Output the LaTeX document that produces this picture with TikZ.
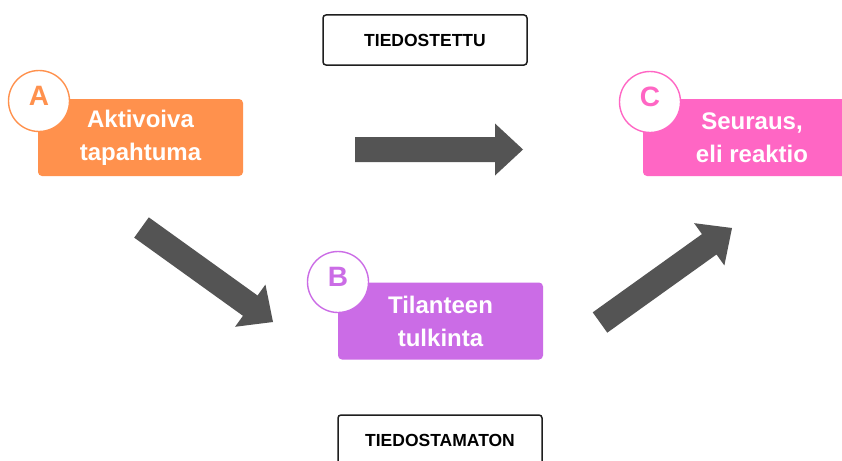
\documentclass[tikz,border=0pt]{standalone}
\usepackage{fontspec}
\setmainfont{Liberation Sans}
\usetikzlibrary{calc}
\definecolor{cA}{HTML}{FF914D}
\definecolor{cB}{HTML}{CB6CE6}
\definecolor{cC}{HTML}{FF66C4}
\definecolor{arrowgray}{HTML}{545454}
\definecolor{boxline}{HTML}{1E1E1E}
% #1 name prefix, #2 start coordinate, #3 tip coordinate
\newcommand\blockarrow[3]{%
  \coordinate (#1hb) at ($(#3)!28pt!(#2)$);
  \fill[arrowgray] ($(#2)!12.5pt!90:(#3)$) -- ($(#1hb)!12.5pt!90:(#3)$) -- ($(#1hb)!26pt!90:(#3)$) -- (#3)
    -- ($(#1hb)!26pt!-90:(#3)$) -- ($(#1hb)!12.5pt!-90:(#3)$) -- ($(#2)!12.5pt!-90:(#3)$) -- cycle;}
\tikzset{
  stage/.style={rounded corners=4pt, minimum width=205pt, minimum height=77pt, text=white,
    font=\bfseries\fontsize{24}{33}\selectfont, align=center, inner sep=0pt},
  badge/.style={circle, line width=1.4pt, fill=white, minimum size=61pt, inner sep=0pt},
  badgeletter/.style={font=\bfseries\fontsize{28}{30}\selectfont, inner sep=0pt},
  tagbox/.style={draw=boxline, line width=1.5pt, rounded corners=3pt, minimum width=204pt,
    minimum height=50pt, font=\bfseries\fontsize{17.5}{20}\selectfont, text=black, inner sep=0pt}
}
\begin{document}
\begin{tikzpicture}[x=1pt,y=-1pt]
\clip (0,0) rectangle (842,460);
\fill[white] (0,0) rectangle (842,460);
% labels
\node[tagbox] (tied) at (425,40) {TIEDOSTETTU};
\node[tagbox] (tiedam) at (440,440) {TIEDOSTAMATON};
% stage boxes
\node[stage, fill=cA] (A) at (140.5,137.5) {Aktivoiva\\tapahtuma};
\node[stage, fill=cB] (B) at (440.5,321) {Tilanteen\\tulkinta};
\node[stage, fill=cC, minimum width=218pt] (C) at (752,137.5) {Seuraus,\\eli reaktio};
% badges
\node[badge, draw=cA] (Ac) at (39,101) {};
\node[badgeletter, text=cA] (Al) at (39,96) {A};
\node[badge, draw=cB] (Bc) at (338,282) {};
\node[badgeletter, text=cB] (Bl) at (338,277) {B};
\node[badge, draw=cC] (Cc) at (650,102) {};
\node[badgeletter, text=cC] (Cl) at (650,97) {C};
% arrows
\coordinate (h1) at (355,149.5);
\coordinate (h2) at (523,149.5);
\coordinate (d1) at (141.5,227.5);
\coordinate (d2) at (273,322);
\coordinate (u1) at (600,322.5);
\coordinate (u2) at (732,228);
\blockarrow{ah}{h1}{h2}
\blockarrow{ad}{d1}{d2}
\blockarrow{au}{u1}{u2}
\end{tikzpicture}
\end{document}
